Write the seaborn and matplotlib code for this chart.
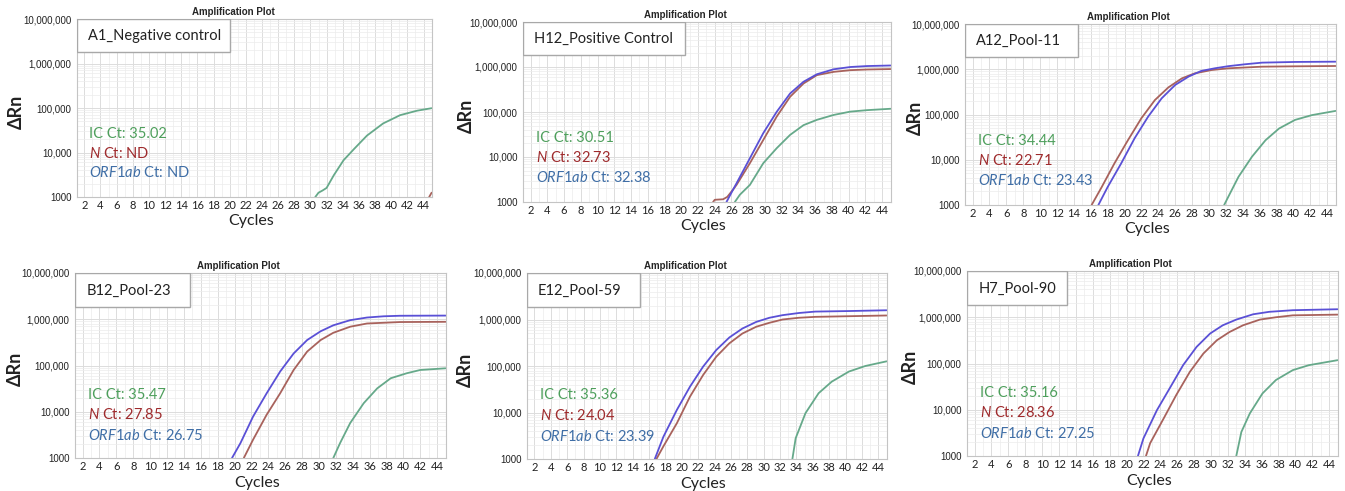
import numpy as np
import pandas as pd
import matplotlib.pyplot as plt
import seaborn as sns
from matplotlib.ticker import FixedLocator, FuncFormatter, LogLocator, MultipleLocator, NullFormatter
from matplotlib.patches import Rectangle

# ---- data (cycle, delta Rn) ----
# A1_Negative control
a1_ic_cyc = [30.6, 31.0, 31.5, 32.0, 32.9, 34.1, 35.4, 37.0, 39.0, 41.1, 43.2, 45.0]
a1_ic_rn = [1000, 1250, 1400, 1600, 3100, 6700, 12000, 24000, 45000, 69000, 87000, 99000]
a1_n_cyc = [44.7, 45.0]
a1_n_rn = [1000, 1250]
a1_orf_cyc = []
a1_orf_rn = []

# H12_Positive Control
h12_ic_cyc = [26.4, 27.0, 28.2, 29.8, 31.4, 33.0, 34.6, 36.2, 38.2, 40.2, 42.2, 45.0]
h12_ic_rn = [1000, 1450, 2400, 7300, 15700, 31000, 51000, 67000, 86000, 102000, 110000, 118000]
h12_n_cyc = [23.8, 24.0, 25.0, 25.5, 26.2, 26.6, 28.2, 29.8, 31.4, 33.0, 34.6, 36.2, 38.2, 40.2, 42.2, 45.0]
h12_n_rn = [1000, 1120, 1150, 1300, 1900, 2400, 7300, 24000, 79000, 218000, 430000, 660000, 780000, 850000, 880000, 900000]
h12_orf_cyc = [25.4, 26.2, 26.6, 28.2, 29.8, 31.4, 33.0, 34.6, 36.2, 38.2, 40.2, 42.2, 45.0]
h12_orf_rn = [1000, 1900, 2600, 9400, 34000, 101000, 258000, 470000, 690000, 890000, 1000000, 1050000, 1080000]

# A12_Pool-11
a12_ic_cyc = [31.8, 32.3, 33.5, 35.1, 36.7, 38.3, 40.2, 42.2, 45.0]
a12_ic_rn = [1000, 1530, 4200, 11700, 27000, 49000, 76000, 97000, 120000]
a12_n_cyc = [16.1, 17.3, 18.8, 20.4, 22.0, 23.6, 25.2, 26.8, 28.3, 30.3, 32.3, 36.3, 40.0, 45.0]
a12_n_rn = [1000, 2500, 8300, 27000, 83000, 209000, 398000, 630000, 810000, 960000, 1050000, 1140000, 1160000, 1180000]
a12_orf_cyc = [16.9, 18.0, 19.6, 21.2, 22.8, 24.4, 26.0, 27.6, 29.1, 30.7, 32.3, 34.3, 36.3, 40.2, 45.0]
a12_orf_rn = [1000, 2500, 8300, 30000, 90000, 228000, 450000, 690000, 920000, 1050000, 1170000, 1290000, 1400000, 1450000, 1470000]

# B12_Pool-23
b12_ic_cyc = [31.7, 32.5, 33.7, 35.3, 36.9, 38.5, 40.4, 42.0, 45.0]
b12_ic_rn = [1000, 2100, 5700, 15300, 32000, 53000, 68000, 80000, 87000]
b12_n_cyc = [21.1, 22.2, 23.8, 25.4, 27.0, 28.6, 30.2, 31.7, 33.7, 35.7, 39.6, 45.0]
b12_n_rn = [1000, 2500, 8600, 25000, 80000, 200000, 355000, 510000, 690000, 810000, 870000, 880000]
b12_orf_cyc = [19.7, 20.7, 22.2, 23.8, 25.4, 27.0, 28.6, 30.2, 31.7, 33.7, 35.7, 37.7, 39.6, 45.0]
b12_orf_rn = [1000, 2100, 7900, 25000, 74000, 182000, 355000, 550000, 740000, 955000, 1090000, 1160000, 1190000, 1200000]

# E12_Pool-59
e12_ic_cyc = [33.5, 33.9, 35.1, 36.7, 38.3, 40.4, 42.4, 45.0]
e12_ic_rn = [1000, 2800, 9700, 26000, 46000, 76000, 100000, 126000]
e12_n_cyc = [16.9, 17.75, 19.4, 21.0, 22.6, 24.2, 25.8, 27.4, 29.1, 30.7, 32.3, 34.3, 36.3, 45.0]
e12_n_rn = [1000, 1870, 5900, 22000, 64000, 158000, 307000, 500000, 700000, 850000, 1000000, 1090000, 1140000, 1220000]
e12_orf_cyc = [16.7, 17.75, 19.4, 21.0, 22.6, 24.2, 25.8, 27.4, 29.1, 30.7, 32.3, 34.3, 36.3, 40.4, 45.0]
e12_orf_rn = [1000, 3000, 11400, 36000, 97000, 220000, 410000, 640000, 890000, 1090000, 1240000, 1380000, 1480000, 1520000, 1580000]

# H7_Pool-90
h7_ic_cyc = [33.0, 33.6, 34.6, 36.1, 37.7, 39.7, 41.6, 45.0]
h7_ic_rn = [1000, 3300, 8300, 22500, 44000, 72000, 92000, 118000]
h7_n_cyc = [22.3, 22.8, 24.4, 25.9, 27.5, 29.1, 30.7, 32.2, 33.8, 35.8, 37.7, 39.7, 45.0]
h7_n_rn = [1000, 1900, 6500, 21000, 66000, 164000, 318000, 480000, 670000, 890000, 1000000, 1100000, 1140000]
h7_orf_cyc = [21.35, 22.0, 23.6, 25.2, 26.7, 28.3, 29.9, 31.4, 33.0, 35.0, 36.9, 39.7, 45.0]
h7_orf_rn = [1000, 2400, 9800, 31000, 92000, 229000, 445000, 670000, 890000, 1160000, 1310000, 1420000, 1490000]

samples = ["A1_Negative control", "H12_Positive Control", "A12_Pool-11",
           "B12_Pool-23", "E12_Pool-59", "H7_Pool-90"]
ic_ct = ["35.02", "30.51", "34.44", "35.47", "35.36", "35.16"]
n_ct = ["ND", "32.73", "22.71", "27.85", "24.04", "28.36"]
orf_ct = ["ND", "32.38", "23.43", "26.75", "23.39", "27.25"]

curves = [
    [(a1_ic_cyc, a1_ic_rn), (a1_n_cyc, a1_n_rn), (a1_orf_cyc, a1_orf_rn)],
    [(h12_ic_cyc, h12_ic_rn), (h12_n_cyc, h12_n_rn), (h12_orf_cyc, h12_orf_rn)],
    [(a12_ic_cyc, a12_ic_rn), (a12_n_cyc, a12_n_rn), (a12_orf_cyc, a12_orf_rn)],
    [(b12_ic_cyc, b12_ic_rn), (b12_n_cyc, b12_n_rn), (b12_orf_cyc, b12_orf_rn)],
    [(e12_ic_cyc, e12_ic_rn), (e12_n_cyc, e12_n_rn), (e12_orf_cyc, e12_orf_rn)],
    [(h7_ic_cyc, h7_ic_rn), (h7_n_cyc, h7_n_rn), (h7_orf_cyc, h7_orf_rn)],
]
targets = ["IC", "N", "ORF1ab"]

# layout (pixels: left, top, right, bottom), y-label centre x (px), label box widths
rects = [(77, 19, 432, 197), (523, 22, 891, 202), (965, 24, 1336, 205),
         (75, 273, 446, 458), (527, 273, 887, 459), (967, 271, 1338, 456)]
ylab_px = [16, 466, 915, 15, 465, 910]
box_w = [0.43, 0.44, 0.305, 0.31, 0.315, 0.27]

line_colors = {"IC": "#66a98a", "N": "#a8625c", "ORF1ab": "#5a50d6"}
text_colors = {"IC": "#4e9f5c", "N": "#9e2a2c", "ORF1ab": "#3f6ea6"}

sns.set_style("whitegrid")
plt.rcParams['font.family'] = ['Lato', 'DejaVu Sans']
plt.rcParams['mathtext.fontset'] = 'custom'
plt.rcParams['mathtext.it'] = 'Lato:italic'
plt.rcParams['mathtext.rm'] = 'Lato'

W, H = 1345, 491
fig = plt.figure(figsize=(W / 100, H / 100), dpi=100)

for i in range(6):
    l, t, r, b = rects[i]
    ax = fig.add_axes([l / W, 1 - b / H, (r - l) / W, (b - t) / H])

    rows = []
    for tg, (cyc, rn) in zip(targets, curves[i]):
        for c, v in zip(cyc, rn):
            rows.append({"cycle": c, "rn": v, "target": tg})
    df = pd.DataFrame(rows)
    sns.lineplot(data=df, x="cycle", y="rn", hue="target", palette=line_colors,
                 estimator=None, sort=False, legend=False, ax=ax, lw=1.3)

    ax.set_yscale("log")
    ax.set_ylim(1000, 1e7)
    ax.set_xlim(1.1, 45.05)
    ax.xaxis.set_major_locator(FixedLocator(np.arange(2, 46, 2)))
    ax.xaxis.set_minor_locator(MultipleLocator(1))
    ax.yaxis.set_major_locator(FixedLocator([1e3, 1e4, 1e5, 1e6, 1e7]))
    ax.yaxis.set_minor_locator(LogLocator(base=10, subs=np.arange(2, 10)))
    ax.yaxis.set_minor_formatter(NullFormatter())
    ax.yaxis.set_major_formatter(FuncFormatter(lambda v, p: "1000" if v < 1500 else f"{int(round(v)):,}"))
    ax.grid(which="major", color="#dcdcdc", lw=0.7)
    ax.grid(which="minor", color="#ececec", lw=0.5)
    for s in ax.spines.values():
        s.set_color("#c4c4c4")
        s.set_linewidth(0.8)
    ax.tick_params(axis="both", which="both", length=0)
    ax.tick_params(axis="x", labelsize=8, pad=2, colors="#222222")
    ax.tick_params(axis="y", pad=4, colors="#222222")
    for lab in ax.get_yticklabels():
        lab.set_fontfamily("Liberation Sans")
        lab.set_fontsize(7)

    ax.set_xlabel("Cycles", fontsize=11.5, color="#222222", va="center")
    ax.set_ylabel("ΔRn", fontsize=13, fontweight="bold", color="#222222", va="center")
    ax.xaxis.set_label_coords(0.49, -0.135)
    ax.yaxis.set_label_coords((ylab_px[i] - l) / (r - l), 0.48)
    ax.text(0.44, 1.04, "Amplification Plot", transform=ax.transAxes, ha="center",
            va="center", fontsize=7, fontweight="bold", family="Liberation Sans")

    ax.add_patch(Rectangle((0, 0.815), box_w[i], 0.185, transform=ax.transAxes,
                           facecolor="white", edgecolor="#a8a8a8", lw=1.0, zorder=5))
    ax.text(0.03, 0.905, samples[i], transform=ax.transAxes, ha="left", va="center",
            fontsize=10.5, color="#222222", zorder=6)

    yoff = 0.0 if i < 3 else -0.012
    ax.text(0.035, 0.355 + yoff, f"IC Ct: {ic_ct[i]}", transform=ax.transAxes,
            ha="left", va="center", fontsize=10.5, color=text_colors["IC"])
    ax.text(0.035, 0.245 + yoff, r"$\mathit{N}$" + f" Ct: {n_ct[i]}", transform=ax.transAxes,
            ha="left", va="center", fontsize=10.5, color=text_colors["N"])
    ax.text(0.035, 0.135 + yoff, r"$\mathit{ORF1ab}$" + f" Ct: {orf_ct[i]}", transform=ax.transAxes,
            ha="left", va="center", fontsize=10.5, color=text_colors["ORF1ab"])

fig.savefig("out.png", dpi=100)
